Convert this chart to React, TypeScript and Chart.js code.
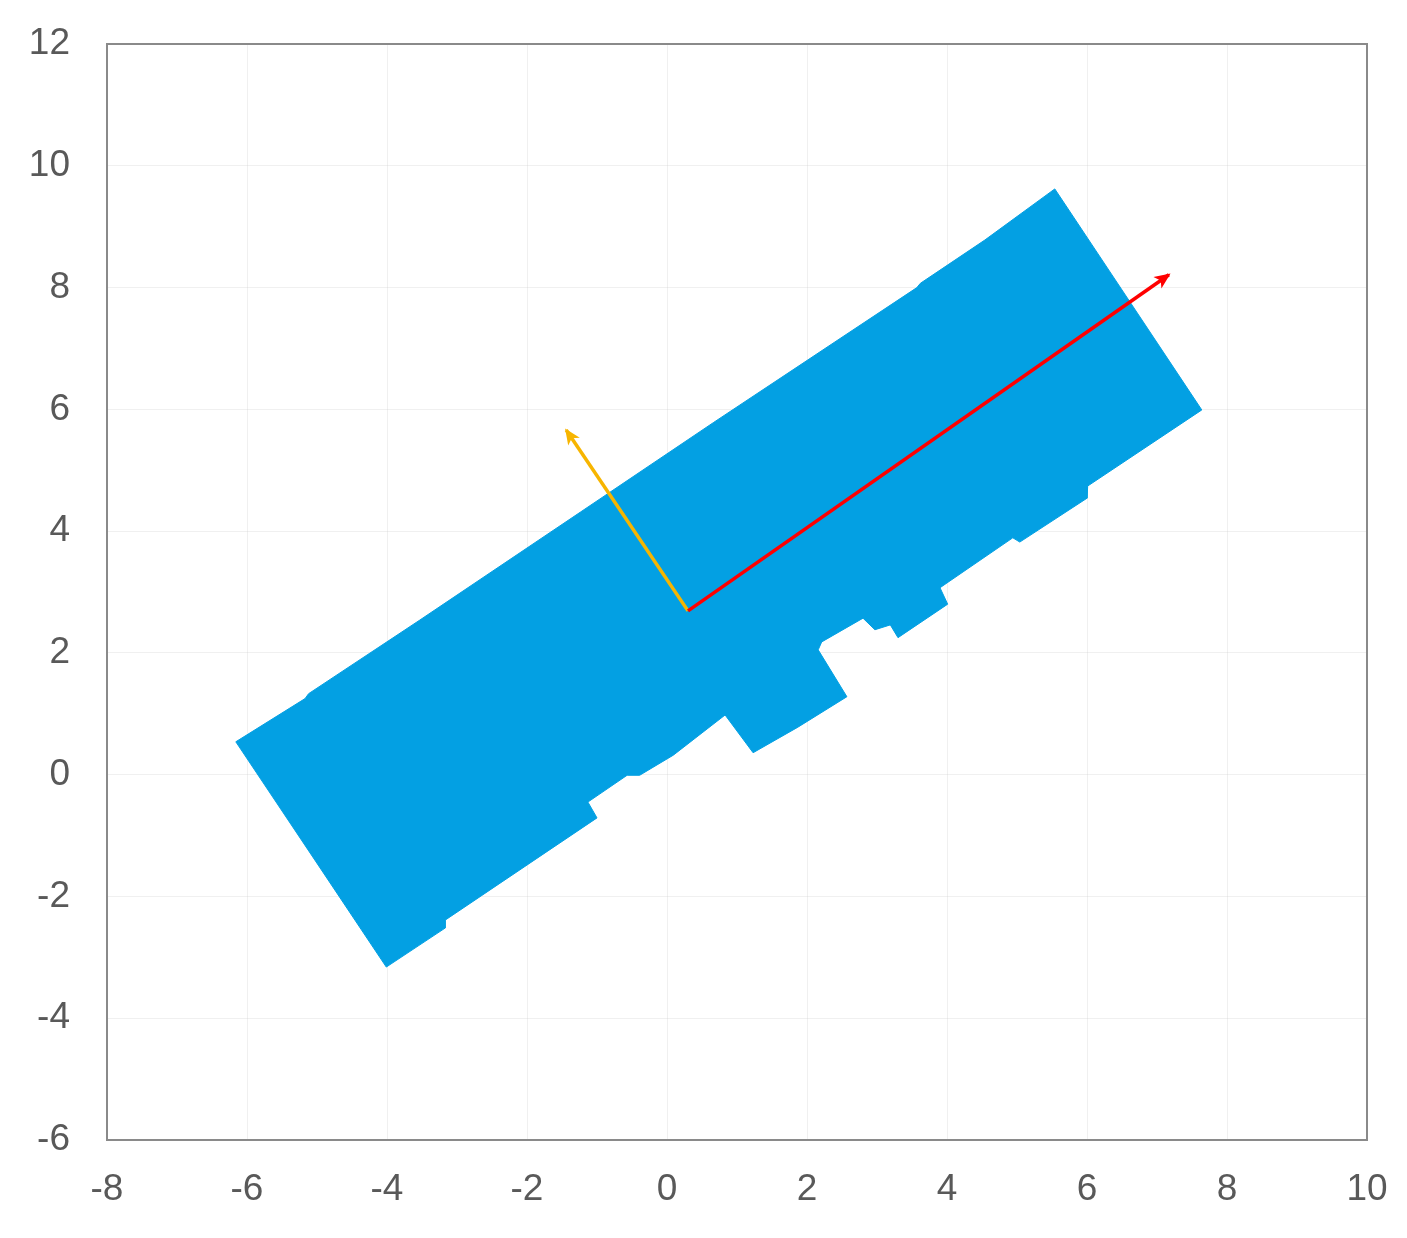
import React, { useEffect, useRef } from "react";
import { Chart, registerables } from "chart.js";

Chart.register(...registerables);

// Axis ranges and tick step
const X_MIN = -8;
const X_MAX = 10;
const Y_MIN = -6;
const Y_MAX = 12;
const TICK_STEP = 2;

// Outline of the point cloud (clockwise from the left corner)
const cloudX = [-6.16, -5.17, -5.12, -3.53, -1.24, 0.66, 3.57, 3.62, 4.54, 5.54, 7.64, 6.01, 6.0, 5.04, 4.94, 3.9, 4.01, 3.3, 3.19, 2.97, 2.8, 2.21, 2.16, 2.57, 1.87, 1.23, 0.83, 0.09, -0.39, -0.57, -1.13, -1.0, -3.17, -3.17, -4.01, -6.16];
const cloudY = [0.54, 1.25, 1.33, 2.54, 4.31, 5.78, 8.0, 8.07, 8.78, 9.62, 5.99, 4.74, 4.54, 3.82, 3.89, 3.07, 2.8, 2.25, 2.46, 2.38, 2.57, 2.18, 2.05, 1.28, 0.78, 0.36, 0.98, 0.32, -0.01, -0.01, -0.45, -0.71, -2.39, -2.52, -3.16, 0.54];

// Principal-axis arrows
const arrowOrigin = { x: 0.3, y: 2.69 };
const majorAxisTip = { x: 7.17, y: 8.21 };
const minorAxisTip = { x: -1.44, y: 5.66 };

const CLOUD_COLOR = "rgb(3,160,227)";
const MAJOR_COLOR = "#ff0000";
const MINOR_COLOR = "#f7b500";
const TICK_COLOR = "#595959";
const FRAME_COLOR = "#8a8a8a";
const GRID_COLOR = "rgba(200,200,200,0.28)";

const arrowHeadPlugin = {
  id: "arrowHeads",
  afterDatasetsDraw(chart: any) {
    const ctx = chart.ctx;
    chart.data.datasets.forEach((ds: any, i: number) => {
      if (!ds.isArrow) return;
      const pts = chart.getDatasetMeta(i).data;
      if (pts.length < 2) return;
      const a = pts[0];
      const b = pts[pts.length - 1];
      const ang = Math.atan2(b.y - a.y, b.x - a.x);
      const L = 16;
      const W = 7;
      const cos = Math.cos(ang);
      const sin = Math.sin(ang);
      const tipX = b.x + cos * 2;
      const tipY = b.y + sin * 2;
      const baseX = tipX - cos * L;
      const baseY = tipY - sin * L;
      ctx.save();
      ctx.fillStyle = ds.borderColor;
      ctx.beginPath();
      ctx.moveTo(tipX, tipY);
      ctx.lineTo(baseX - sin * W, baseY + cos * W);
      ctx.lineTo(tipX - cos * (L - 4), tipY - sin * (L - 4));
      ctx.lineTo(baseX + sin * W, baseY - cos * W);
      ctx.closePath();
      ctx.fill();
      ctx.restore();
    });
  },
};

const framePlugin = {
  id: "frame",
  afterDraw(chart: any) {
    const { ctx, chartArea } = chart;
    ctx.save();
    ctx.strokeStyle = FRAME_COLOR;
    ctx.lineWidth = 2;
    ctx.strokeRect(chartArea.left, chartArea.top, chartArea.right - chartArea.left, chartArea.bottom - chartArea.top);
    ctx.restore();
  },
};

export default function App() {
  const canvasRef = useRef<HTMLCanvasElement | null>(null);

  useEffect(() => {
    if (!canvasRef.current) return;
    const cloud = cloudX.map((x, i) => ({ x, y: cloudY[i] }));
    const fontFamily = "'Liberation Sans', Arial, sans-serif";
    const chart = new Chart(canvasRef.current, {
      type: "scatter",
      data: {
        datasets: [
          {
            label: "major",
            data: [arrowOrigin, majorAxisTip],
            showLine: true,
            borderColor: MAJOR_COLOR,
            borderWidth: 3.5,
            pointRadius: 0,
            order: 0,
            isArrow: true,
          } as any,
          {
            label: "minor",
            data: [arrowOrigin, minorAxisTip],
            showLine: true,
            borderColor: MINOR_COLOR,
            borderWidth: 3.5,
            pointRadius: 0,
            order: 1,
            isArrow: true,
          } as any,
          {
            label: "cloud",
            data: cloud,
            showLine: true,
            fill: "shape",
            backgroundColor: CLOUD_COLOR,
            borderColor: CLOUD_COLOR,
            borderWidth: 1,
            pointRadius: 0,
            tension: 0,
            order: 2,
          } as any,
        ],
      },
      options: {
        responsive: false,
        animation: false,
        devicePixelRatio: 1,
        layout: { padding: { top: 44, right: 40, left: 0, bottom: 0 } },
        plugins: {
          legend: { display: false },
          tooltip: { enabled: false },
        },
        scales: {
          x: {
            type: "linear",
            min: X_MIN,
            max: X_MAX,
            z: 1,
            border: { display: false },
            grid: { color: GRID_COLOR, drawTicks: false, lineWidth: 1 },
            ticks: {
              stepSize: TICK_STEP,
              padding: 28,
              color: TICK_COLOR,
              font: { family: fontFamily, size: 37 },
              maxRotation: 0,
              callback: (v: any) => String(v),
            },
            afterFit: (s: any) => {
              s.height = 98;
              s.paddingLeft = 0;
              s.paddingRight = 0;
              s.paddingTop = 0;
              s.paddingBottom = 0;
            },
          },
          y: {
            type: "linear",
            min: Y_MIN,
            max: Y_MAX,
            z: 1,
            border: { display: false },
            grid: { color: GRID_COLOR, drawTicks: false, lineWidth: 1 },
            ticks: {
              stepSize: TICK_STEP,
              padding: 37,
              color: TICK_COLOR,
              font: { family: fontFamily, size: 37 },
              callback: (v: any) => String(v),
            },
            afterFit: (s: any) => {
              s.width = 107;
              s.paddingLeft = 0;
              s.paddingRight = 0;
              s.paddingTop = 0;
              s.paddingBottom = 0;
            },
          },
        },
      } as any,
      plugins: [arrowHeadPlugin, framePlugin],
    });
    return () => chart.destroy();
  }, []);

  return (
    <div style={{ position: "absolute", left: 0, top: 0, width: 1407, height: 1238, background: "#fff" }}>
      <canvas ref={canvasRef} width={1407} height={1238} style={{ display: "block" }} />
    </div>
  );
}
